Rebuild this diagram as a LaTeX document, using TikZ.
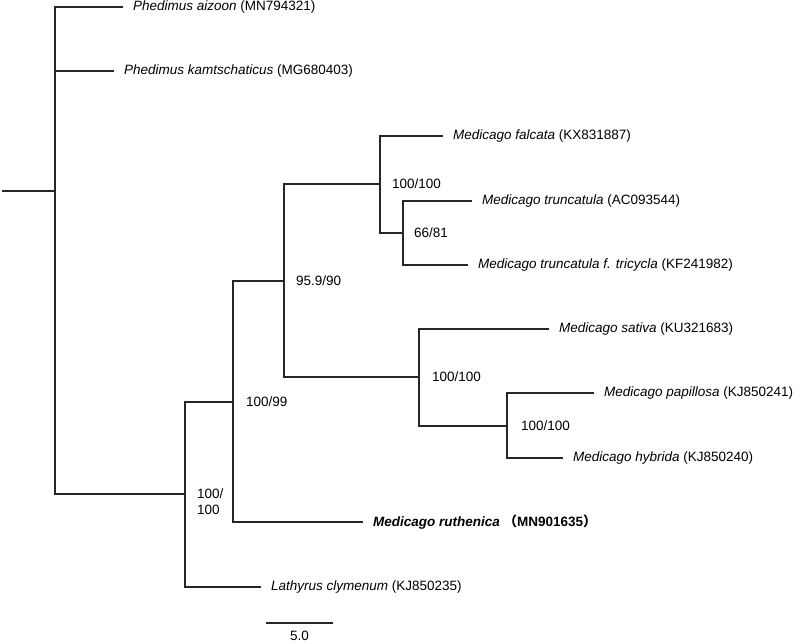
\documentclass[tikz,border=0pt]{standalone}
\usepackage{fontspec}
\setmainfont{Liberation Sans}
\newfontfamily\cjk{Noto Sans CJK SC}
\usepackage{tikz}
\usetikzlibrary{calc}
\usetikzlibrary{positioning}
\definecolor{branchgray}{rgb}{0.15,0.15,0.15}

\begin{document}
\begin{tikzpicture}[x=1pt,y=-1pt,
    branch/.style={line width=1.2pt, branchgray, line cap=rect},
    taxon/.style={anchor=west, inner xsep=11pt, inner ysep=0pt, outer sep=0pt, font=\fontsize{13.5}{16}\selectfont},
    support/.style={inner sep=0pt, align=left, font=\fontsize{13.5}{16}\selectfont}]
    \useasboundingbox (0,0) rectangle (800,644);
    % inner nodes
    \coordinate (origin) at (3,191);
    \coordinate (nRoot) at (55,191);
    \coordinate (nA) at (185,494);
    \coordinate (nB) at (233,402);
    \coordinate (nC) at (284,281);
    \coordinate (nD) at (380,184);
    \coordinate (nE) at (403,233);
    \coordinate (nF) at (419,377);
    \coordinate (nG) at (507,426);
    % leaves
    \node[taxon] (aizoon) at (122,7) {\textit{Phedimus aizoon} (MN794321)};
    \node[taxon] (kamts) at (113,71) {\textit{Phedimus kamtschaticus} (MG680403)};
    \node[taxon] (falcata) at (442,136) {\textit{Medicago falcata} (KX831887)};
    \node[taxon] (trunc) at (471,201) {\textit{Medicago truncatula} (AC093544)};
    \node[taxon] (tricycla) at (467,265) {\textit{Medicago truncatula f. tricycla} (KF241982)};
    \node[taxon] (sativa) at (548,329) {\textit{Medicago sativa} (KU321683)};
    \node[taxon] (papillosa) at (593,393) {\textit{Medicago papillosa} (KJ850241)};
    \node[taxon] (hybrida) at (562,458) {\textit{Medicago hybrida} (KJ850240)};
    \node[taxon] (ruthenica) at (362,522) {\textbf{\textit{Medicago ruthenica}} {\cjk\bfseries （}\textbf{MN901635}{\cjk\bfseries ）}};
    \node[taxon] (lathyrus) at (260,587) {\textit{Lathyrus clymenum} (KJ850235)};
    % branches
    \draw[branch] (origin) -- (nRoot);
    \draw[branch] (nRoot) |- (aizoon.west) (nRoot) |- (kamts.west) (nRoot) |- (nA);
    \draw[branch] (nA) |- (nB) (nA) |- (lathyrus.west);
    \draw[branch] (nB) |- (nC) (nB) |- (ruthenica.west);
    \draw[branch] (nC) |- (nD) (nC) |- (nF);
    \draw[branch] (nD) |- (falcata.west) (nD) |- (nE);
    \draw[branch] (nE) |- (trunc.west) (nE) |- (tricycla.west);
    \draw[branch] (nF) |- (sativa.west) (nF) |- (nG);
    \draw[branch] (nG) |- (papillosa.west) (nG) |- (hybrida.west);
    % support values
    \node[support, right=12pt of nA, yshift=-8pt] (sA) {100/\\100};
    \node[support, right=13pt of nB] (sB) {100/99};
    \node[support, right=12pt of nC] (sC) {95.9/90};
    \node[support, right=12pt of nD] (sD) {100/100};
    \node[support, right=11pt of nE] (sE) {66/81};
    \node[support, right=13pt of nF] (sF) {100/100};
    \node[support, right=14pt of nG] (sG) {100/100};
    % scale bar
    \coordinate (barL) at (267,623);
    \coordinate (barR) at (332,623);
    \draw[branch] (barL) -- (barR);
    \node[support, below=8pt of $(barL)!0.5!(barR)$] (barlabel) {5.0};
\end{tikzpicture}
\end{document}
